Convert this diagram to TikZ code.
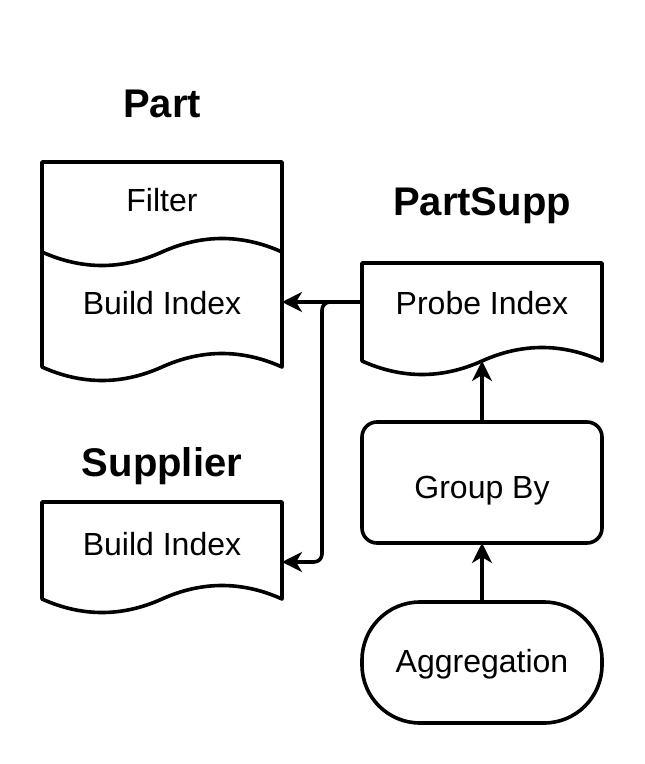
\documentclass[tikz,border=0pt]{standalone}
\usepackage{fontspec}
\setmainfont{Liberation Sans}
\usetikzlibrary{arrows.meta}

\tikzset{
  shape line/.style={line width=1.8pt, line join=round},
  flow/.style={line width=1.8pt, -{Stealth[length=10pt,width=10pt,inset=3pt]}},
  title/.style={font=\fontsize{20}{24}\selectfont\bfseries},
  txt/.style={font=\fontsize{16}{19}\selectfont}
}

\begin{document}
\begin{tikzpicture}[x=0.5pt, y=-0.5pt]
  \useasboundingbox (0,0) rectangle (644,764);

  % titles
  \node[title] (part title) at (162,104) {Part};
  \node[title] (partsupp title) at (482,206) {PartSupp};
  \node[title] (supplier title) at (162,466) {Supplier};

  % Part: Filter over Build Index
  \draw[shape line] (42,162) -- (282,162) -- (282,367)
    .. controls (242,349) and (202,349) .. (162,367)
    .. controls (122,385) and (82,385) .. (42,367) -- cycle;
  \draw[shape line] (282,252)
    .. controls (242,234) and (202,234) .. (162,252)
    .. controls (122,270) and (82,270) .. (42,252);
  \node[txt] (filter) at (162,200) {Filter};
  \node[txt] (part index) at (162,303) {Build Index};

  % PartSupp
  \draw[shape line] (362,263) -- (602,263) -- (602,361)
    .. controls (562,343) and (522,343) .. (482,361)
    .. controls (442,379) and (402,379) .. (362,361) -- cycle;
  \node[txt] (probe) at (482,303) {Probe Index};

  % Supplier
  \draw[shape line] (42,502) -- (282,502) -- (282,599)
    .. controls (242,581) and (202,581) .. (162,599)
    .. controls (122,617) and (82,617) .. (42,599) -- cycle;
  \node[txt] (supplier index) at (162,544) {Build Index};

  % Group By and Aggregation
  \draw[shape line, rounded corners=7.5pt] (362,422) rectangle (602,543);
  \node[txt] (group) at (482,491) {Group By};
  \draw[shape line, rounded corners=29pt] (362,602) rectangle (602,723);
  \node[txt] (aggr) at (482,664) {Aggregation};

  % connector ends
  \coordinate (probe w) at (362,302);
  \coordinate (probe s) at (482,361);
  \coordinate (part e) at (282,302);
  \coordinate (supplier e) at (282,562);
  \coordinate (bend) at (322,562);
  \coordinate (group n) at (482,422);
  \coordinate (group s) at (482,543);
  \coordinate (aggr n) at (482,602);

  \draw[flow] (probe w) -- (part e);
  \draw[flow, rounded corners=4pt] (probe w) -| (bend) -- (supplier e);
  \draw[flow] (group n) -- (probe s);
  \draw[flow] (aggr n) -- (group s);
\end{tikzpicture}
\end{document}
